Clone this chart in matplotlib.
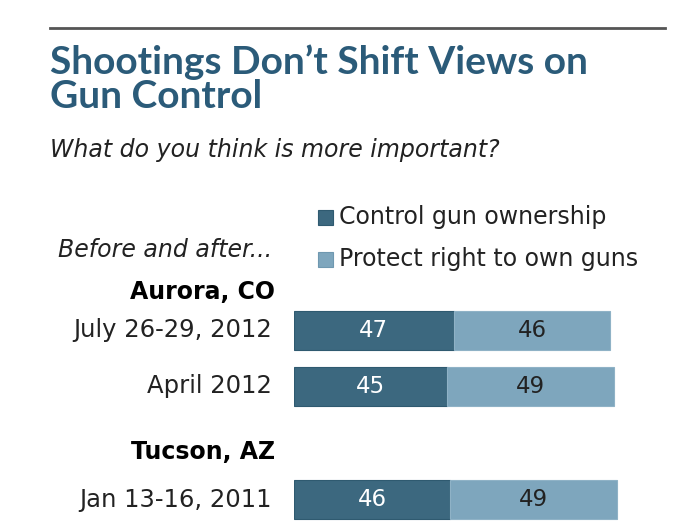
import matplotlib
matplotlib.use("Agg")
import matplotlib.pyplot as plt
from matplotlib.patches import Rectangle

# ---- data ----
series_names = ["Control gun ownership", "Protect right to own guns"]
row_labels = ["July 26-29, 2012", "April 2012", "Jan 13-16, 2011"]
control_vals = [47, 45, 46]
protect_vals = [46, 49, 49]
group_labels = ["Aurora, CO", "Tucson, AZ"]
title = "Shootings Don\u2019t Shift Views on\nGun Control"
subtitle = "What do you think is more important?"
note = "Before and after..."

DARK = "#3c687f"
LIGHT = "#7ea6bd"
TITLE_C = "#2b5b79"
TXT = "#222222"

W, H = 700, 525
fig = plt.figure(figsize=(W / 100, H / 100), dpi=100)
fig.patch.set_facecolor("white")

def fx(x):
    return x / W

def fy(y):
    return 1 - y / H

# top rule
fig.add_artist(plt.Line2D([fx(50), fx(665)], [fy(28), fy(28)], color="#555555", lw=2))

fig.text(fx(50), fy(44), title, ha="left", va="top", fontsize=28, fontweight="bold",
         family="Lato", color=TITLE_C, linespacing=0.97)
fig.text(fx(50), fy(150), subtitle, ha="left", va="center", fontsize=17, style="italic",
         color=TXT)

# legend
leg_y = [217, 259.5]
leg_edges = ["#2f5a70", "#6f98b0"]
for name, col, ec, y in zip(series_names, [DARK, LIGHT], leg_edges, leg_y):
    fig.add_artist(Rectangle((fx(318), fy(y + 7.5)), fx(15), 15 / H, facecolor=col,
                             edgecolor=ec, linewidth=0.8, transform=fig.transFigure))
    fig.text(fx(339), fy(y), name, ha="left", va="center", fontsize=17, color=TXT)

fig.text(fx(272), fy(250), note, ha="right", va="center", fontsize=17, style="italic",
         color=TXT)

# bars
ax = fig.add_axes([fx(294), 0, 340 / W, 1])
ax.set_xlim(0, 100)
ax.set_ylim(H, 0)
ax.axis("off")

row_y = [330.5, 386.5, 499.5]
group_y = [292, 452]
bh = 39

ax.barh(row_y, control_vals, height=bh, color=DARK, edgecolor="#2f5a70", linewidth=0.8)
ax.barh(row_y, protect_vals, left=control_vals, height=bh, color=LIGHT,
        edgecolor="#8fb2c6", linewidth=0.8)

for y, c, p, lab in zip(row_y, control_vals, protect_vals, row_labels):
    ax.text(c / 2, y, str(c), ha="center", va="center", fontsize=16.5, color="white")
    ax.text(c + p / 2, y, str(p), ha="center", va="center", fontsize=16.5, color=TXT)
    fig.text(fx(272), fy(y), lab, ha="right", va="center", fontsize=17.5, color=TXT)

for y, g in zip(group_y, group_labels):
    fig.text(fx(275), fy(y), g, ha="right", va="center", fontsize=17,
             fontweight="bold", color="black")

fig.savefig("out.png", dpi=100, facecolor="white")
